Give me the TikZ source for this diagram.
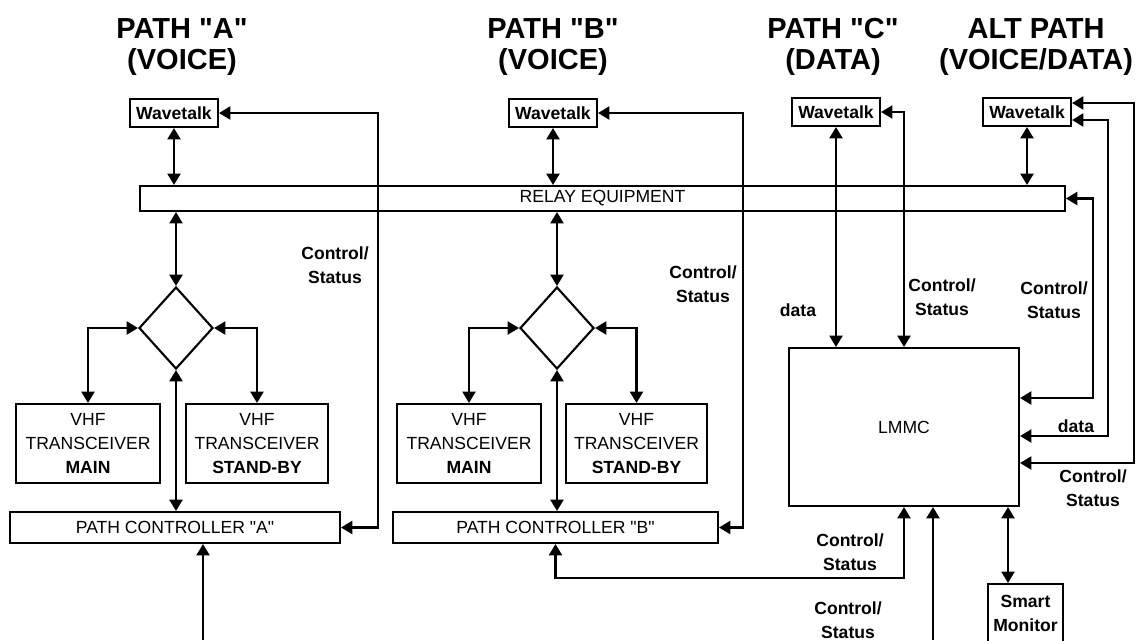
\documentclass[tikz,border=0pt]{standalone}
\usepackage{fontspec}
\setmainfont{Liberation Sans}
\usetikzlibrary{shapes.geometric, arrows.meta, positioning, calc}

\begin{document}
\begin{tikzpicture}[x=0.02cm, y=-0.02cm, line width=1.2pt,
  box/.style={draw, inner sep=0pt, align=center, font=\fontsize{10}{13.6}\selectfont},
  wt/.style={box, minimum width=1.76cm, minimum height=0.56cm, font=\fontsize{10}{12}\selectfont\bfseries},
  vhf/.style={box, minimum height=1.58cm},
  pc/.style={box, minimum height=0.62cm},
  sw/.style={draw, diamond, inner sep=0pt, minimum width=1.48cm, minimum height=1.64cm},
  ttl/.style={align=center, font=\fontsize{16.5}{18}\selectfont\bfseries},
  lbl/.style={align=center, font=\fontsize{10}{13.6}\selectfont\bfseries},
  arr/.style={-{Triangle[length=6.5pt,width=7.5pt]}},
  biarr/.style={{Triangle[length=6.5pt,width=7.5pt]}-{Triangle[length=6.5pt,width=7.5pt]}}]
  \useasboundingbox (0,0) rectangle (1142,640);

  % ---------- titles ----------
  \node[ttl] (tA) at (182,47) {PATH \textquotedbl A\textquotedbl\\(VOICE)};
  \node[ttl] (tB) at (553,47) {PATH \textquotedbl B\textquotedbl\\(VOICE)};
  \node[ttl] (tC) at (833,47) {PATH \textquotedbl C\textquotedbl\\(DATA)};
  \node[ttl] (tD) at (1036,47) {ALT PATH\\(VOICE/DATA)};

  % ---------- blocks ----------
  \node[wt] (wtA) at (174,113) {Wavetalk};
  \node[wt] (wtB) at (553,113) {Wavetalk};
  \node[wt] (wtC) at (836,112) {Wavetalk};
  \node[wt] (wtD) at (1027,112) {Wavetalk};

  \node[box, minimum width=18.5cm, minimum height=0.5cm] (relay) at (602.5,198.5) {RELAY EQUIPMENT};

  \node[sw] (swA) at (176,328) {};
  \node[sw] (swB) at (557,328) {};

  \node[vhf, minimum width=2.88cm] (mainA) at (88,443.5) {VHF\\TRANSCEIVER\\\textbf{MAIN}};
  \node[vhf, minimum width=2.84cm] (stbyA) at (257,443.5) {VHF\\TRANSCEIVER\\\textbf{STAND-BY}};
  \node[vhf, minimum width=2.88cm] (mainB) at (469,443.5) {VHF\\TRANSCEIVER\\\textbf{MAIN}};
  \node[vhf, minimum width=2.82cm] (stbyB) at (636.5,443.5) {VHF\\TRANSCEIVER\\\textbf{STAND-BY}};

  \node[pc, minimum width=6.6cm] (pcA) at (175,527.5) {PATH CONTROLLER \textquotedbl A\textquotedbl};
  \node[pc, minimum width=6.5cm] (pcB) at (555.5,527.5) {PATH CONTROLLER \textquotedbl B\textquotedbl};

  \node[box, minimum width=4.6cm, minimum height=3.16cm] (lmmc) at (904,427) {LMMC};
  \node[box, font=\fontsize{10}{13.2}\selectfont\bfseries, minimum width=1.5cm, minimum height=1.18cm] (mon) at (1025.5,613.5) {Smart\\Monitor};

  % ---------- path A ----------
  \draw[biarr] (wtA) -- (wtA |- relay.north);
  \draw[biarr] (swA) -- (swA |- relay.south);
  \draw[biarr] (swA.west) -| (mainA.north);
  \draw[biarr] (swA.east) -| (stbyA.north);
  \draw[biarr] (swA.south) -- (swA.south |- pcA.north);
  \draw[biarr] (wtA.east) -- ++(159,0) |- (pcA.east);
  \coordinate (inA) at (203,640);
  \draw[arr] (inA) -- (inA |- pcA.south);
  \node[lbl] (csA) at (335,265) {Control/\\Status};

  % ---------- path B ----------
  \draw[biarr] (wtB) -- (wtB |- relay.north);
  \draw[biarr] (swB) -- (swB |- relay.south);
  \draw[biarr] (swB.west) -| (mainB.north);
  \draw[biarr] (swB.east) -| (stbyB.north);
  \draw[biarr] (swB.south) -- (swB.south |- pcB.north);
  \draw[biarr] (wtB.east) -- ++(145,0) |- (pcB.east);
  \node[lbl] (csB) at (703,284) {Control/\\Status};

  % ---------- path C ----------
  \draw[biarr] (wtC) -- (wtC |- lmmc.north);
  \draw[biarr] (wtC.east) -| (lmmc.north);
  \node[lbl] (dC) at (798,310) {data};
  \node[lbl] (csC) at (942,297) {Control/\\Status};

  % ---------- alt path ----------
  \draw[biarr] (wtD) -- (wtD |- relay.north);
  \draw[biarr] ([yshift=0.18cm]wtD.east) -- ++(62,0) |- ([yshift=-0.72cm]lmmc.east);
  \draw[biarr] ([yshift=-0.16cm]wtD.east) -- ++(36,0) |- ([yshift=-0.18cm]lmmc.east);
  \draw[biarr] (relay.east) -- ++(27,0) |- ([yshift=0.58cm]lmmc.east);
  \node[lbl] (csR) at (1054,300) {Control/\\Status};
  \node[lbl] (dD) at (1076,426) {data};
  \node[lbl] (csD) at (1093,488) {Control/\\Status};

  % ---------- lmmc ----------
  \draw[biarr] (pcB.south) -- ++(0,34) -| (lmmc.south);
  \coordinate (inL) at (933,640);
  \draw[arr] (inL) -- (inL |- lmmc.south);
  \draw[biarr] ([xshift=-0.35cm]mon.north) -- ([xshift=-0.35cm]mon.north |- lmmc.south);
  \node[lbl] (csP) at (850,552) {Control/\\Status};
  \node[lbl] (csL) at (848,620) {Control/\\Status};
\end{tikzpicture}
\end{document}
